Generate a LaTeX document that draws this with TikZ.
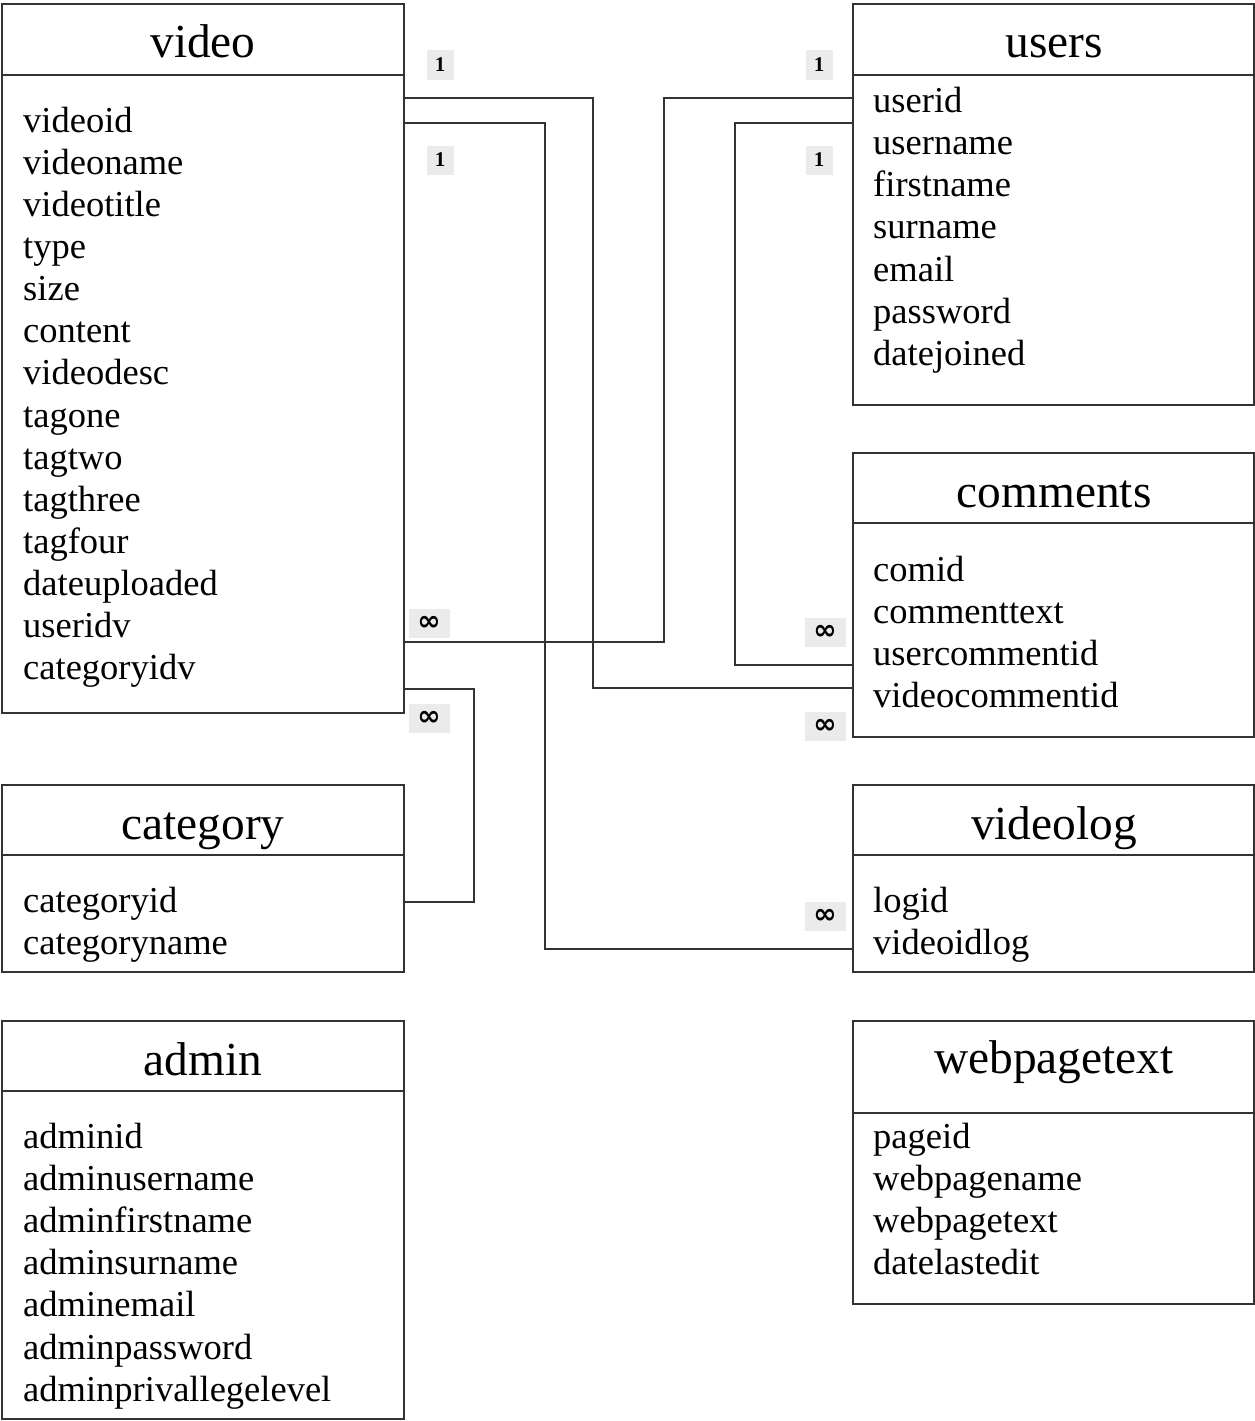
\documentclass[tikz,border=0pt]{standalone}
\usepackage{fontspec}
\setmainfont{Liberation Serif}
\newfontfamily\symfont{DejaVu Sans}
\definecolor{linegray}{HTML}{333333}
\definecolor{cardgray}{HTML}{EBEBEB}
\tikzset{
  x=1pt, y=-1pt,
  tbl/.style={draw=linegray, line width=2.4pt, anchor=north west, inner sep=0pt, outer sep=0pt},
  sep/.style={draw=linegray, line width=2.2pt},
  ttl/.style={anchor=base, inner sep=0pt, font=\fontsize{47.4}{50}\selectfont},
  fld/.style={anchor=base west, inner sep=0pt, font=\fontsize{36.5}{42}\selectfont},
  card/.style={fill=cardgray, inner sep=0pt, minimum width=27pt, minimum height=29pt, font=\bfseries\fontsize{21}{21}\selectfont},
  manycard/.style={card, minimum width=41pt, font=\symfont\bfseries\fontsize{28}{28}\selectfont},
  link/.style={draw=linegray, line width=2.2pt},
}
\begin{document}
\begin{tikzpicture}
\useasboundingbox (0,0) rectangle (1255,1421);

% ---- tables ----
\node[tbl, minimum width=402pt, minimum height=709pt] (video) at (2,4) {};
\node[tbl, minimum width=401pt, minimum height=401pt] (users) at (853,4) {};
\node[tbl, minimum width=401pt, minimum height=284pt] (comments) at (853,453) {};
\node[tbl, minimum width=402pt, minimum height=187pt] (category) at (2,785) {};
\node[tbl, minimum width=401pt, minimum height=187pt] (videolog) at (853,785) {};
\node[tbl, minimum width=402pt, minimum height=398pt] (admin) at (2,1021) {};
\node[tbl, minimum width=401pt, minimum height=283pt] (webpage) at (853,1021) {};

% title separators
\draw[sep] (video.west |- 0,75) -- (video.east |- 0,75);
\draw[sep] (users.west |- 0,75) -- (users.east |- 0,75);
\draw[sep] (comments.west |- 0,523) -- (comments.east |- 0,523);
\draw[sep] (category.west |- 0,855) -- (category.east |- 0,855);
\draw[sep] (videolog.west |- 0,855) -- (videolog.east |- 0,855);
\draw[sep] (admin.west |- 0,1091) -- (admin.east |- 0,1091);
\draw[sep] (webpage.west |- 0,1113) -- (webpage.east |- 0,1113);

% titles
\node[ttl] (video-title) at (203,58) {video};
\node[ttl] (users-title) at (1054,58) {users};
\node[ttl] (comments-title) at (1054,507) {comments};
\node[ttl] (category-title) at (203,839) {category};
\node[ttl] (videolog-title) at (1054,839) {videolog};
\node[ttl] (admin-title) at (203,1075) {admin};
\node[ttl] (webpage-title) at (1054,1073) {webpagetext};

% fields
\foreach \t [count=\i] in {videoid,videoname,videotitle,type,size,content,videodesc,tagone,tagtwo,tagthree,tagfour,dateuploaded,useridv,categoryidv}
  \node[fld] (video-f\i) at (23,{132+42.15*(\i-1)}) {\t};
\foreach \t [count=\i] in {userid,username,firstname,surname,email,password,datejoined}
  \node[fld] (users-f\i) at (873,{112+42.3*(\i-1)}) {\t};
\foreach \t [count=\i] in {comid,commenttext,usercommentid,videocommentid}
  \node[fld] (comments-f\i) at (873,{581+42.1*(\i-1)}) {\t};
\foreach \t [count=\i] in {categoryid,categoryname}
  \node[fld] (category-f\i) at (23,{912+42*(\i-1)}) {\t};
\foreach \t [count=\i] in {logid,videoidlog}
  \node[fld] (videolog-f\i) at (873,{912+42*(\i-1)}) {\t};
\foreach \t [count=\i] in {adminid,adminusername,adminfirstname,adminsurname,adminemail,adminpassword,adminprivallegelevel}
  \node[fld] (admin-f\i) at (23,{1148+42.2*(\i-1)}) {\t};
\foreach \t [count=\i] in {pageid,webpagename,webpagetext,datelastedit}
  \node[fld] (webpage-f\i) at (873,{1148+42*(\i-1)}) {\t};

% ---- relationships ----
\draw[link] (video.east |- 0,98) -- (593,98) -- (593,688) -- (comments.west |- 0,688);
\draw[link] (video.east |- 0,123) -- (545,123) -- (545,949) -- (videolog.west |- 0,949);
\draw[link] (users.west |- 0,98) -- (664,98) -- (664,642) -- (video.east |- 0,642);
\draw[link] (users.west |- 0,123) -- (735,123) -- (735,665) -- (comments.west |- 0,665);
\draw[link] (video.east |- 0,689) -- (474,689) -- (474,902) -- (category.east |- 0,902);

% cardinality markers
\node[card] (c-v1) at (440,65) {1};
\node[card] (c-v2) at (440,160) {1};
\node[card] (c-u1) at (819,65) {1};
\node[card] (c-u2) at (819,160) {1};
\node[manycard] (m-vu) at (429,623) {∞};
\node[manycard] (m-vc) at (429,718) {∞};
\node[manycard] (m-cu) at (825,632) {∞};
\node[manycard] (m-cv) at (825,726) {∞};
\node[manycard] (m-lv) at (825,916) {∞};
\end{tikzpicture}
\end{document}
